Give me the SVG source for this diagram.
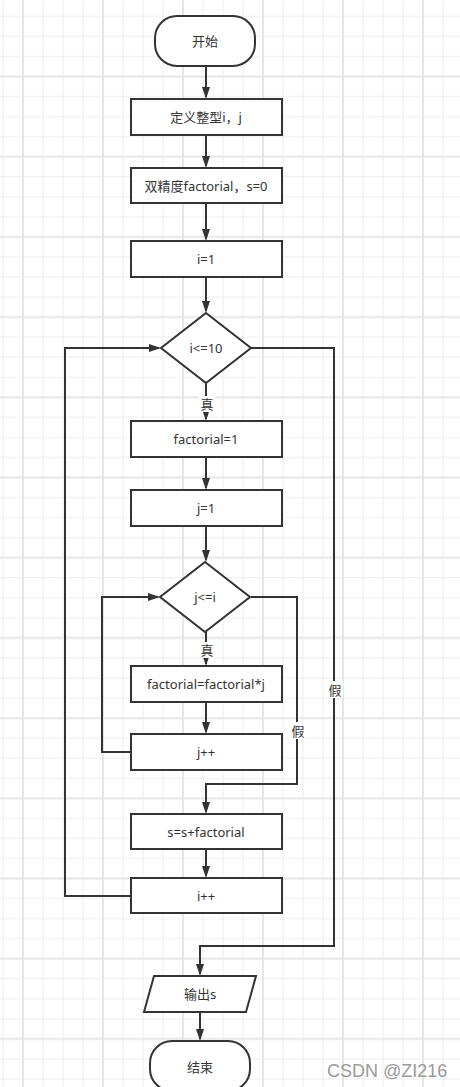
<svg xmlns="http://www.w3.org/2000/svg" width="460" height="1087" viewBox="0 0 460 1087">
<style>
.n{fill:#fff;stroke:#333;stroke-width:2}
.t{font-family:"Noto Sans","Noto Sans CJK SC",sans-serif;font-size:13px;fill:#333;text-anchor:middle;dominant-baseline:central}
.c{fill:none;stroke:#333;stroke-width:2}
.lb{fill:#fff}
</style>
<defs>
<pattern id="grid" patternUnits="userSpaceOnUse" x="-27" y="26.5" width="80" height="80.2">
<path d="M10,0V80.2M30,0V80.2M70,0V80.2M0,10H80M0,30.05H80M0,70.15H80" stroke="#ededed" stroke-width="1" fill="none"/>
<path d="M50,0V80.2M0,50.1H80" stroke="#e6e6e6" stroke-width="2" fill="none"/>
</pattern>
<marker id="ah" markerUnits="userSpaceOnUse" viewBox="0 0 12 8" markerWidth="12" markerHeight="8" refX="10" refY="4" orient="auto">
<path d="M0,0L12,4L0,8Z" fill="#333"/>
</marker>
</defs>
<rect width="460" height="1087" fill="#fff"/>
<rect width="460" height="1087" fill="url(#grid)"/>
<g id="connectors">
<path class="c" d="M206,66V97" marker-end="url(#ah)"/>
<path class="c" d="M206,135V166" marker-end="url(#ah)"/>
<path class="c" d="M206,203V239" marker-end="url(#ah)"/>
<path class="c" d="M206,277V311" marker-end="url(#ah)"/>
<path class="c" d="M206,383V419" marker-end="url(#ah)"/>
<path class="c" d="M206,457V488" marker-end="url(#ah)"/>
<path class="c" d="M206,526V560" marker-end="url(#ah)"/>
<path class="c" d="M206,632V664" marker-end="url(#ah)"/>
<path class="c" d="M206,702V732" marker-end="url(#ah)"/>
<path class="c" d="M131,752H102V597H158" marker-end="url(#ah)"/>
<path class="c" d="M251,597H297V784H206V812" marker-end="url(#ah)"/>
<path class="c" d="M206,849V876" marker-end="url(#ah)"/>
<path class="c" d="M131,896H65V348H159" marker-end="url(#ah)"/>
<path class="c" d="M251,348H334V946H200V974" marker-end="url(#ah)"/>
<path class="c" d="M200,1012V1039" marker-end="url(#ah)"/>
<rect class="lb" x="199" y="396" width="16" height="16"/>
<text class="t" x="207" y="404">真</text>
<rect class="lb" x="199" y="642" width="16" height="16"/>
<text class="t" x="207" y="650">真</text>
<rect class="lb" x="290" y="722" width="16" height="17"/>
<text class="t" x="298" y="731">假</text>
<rect class="lb" x="327" y="681" width="16" height="17"/>
<text class="t" x="335" y="690">假</text>
</g>
<g id="start"><rect class="n" x="155" y="16" width="100" height="50" rx="22"/><text class="t" x="205" y="41">开始</text></g>
<g id="defInt"><rect class="n" x="131" y="99" width="151" height="36"/><text class="t" x="206" y="117">定义整型i，j</text></g>
<g id="defDouble"><rect class="n" x="131" y="168" width="151" height="35"/><text class="t" x="206" y="186">双精度factorial，s=0</text></g>
<g id="initI"><rect class="n" x="131" y="241" width="151" height="36"/><text class="t" x="206" y="259">i=1</text></g>
<g id="condI"><path class="n" d="M206,313L251,348L206,383L161,348Z"/><text class="t" x="206" y="348">i&lt;=10</text></g>
<g id="fact1"><rect class="n" x="131" y="421" width="151" height="36"/><text class="t" x="206" y="439">factorial=1</text></g>
<g id="initJ"><rect class="n" x="131" y="490" width="151" height="36"/><text class="t" x="206" y="508">j=1</text></g>
<g id="condJ"><path class="n" d="M205,562L250,597L205,632L160,597Z"/><text class="t" x="205" y="597">j&lt;=i</text></g>
<g id="factMul"><rect class="n" x="131" y="666" width="151" height="36"/><text class="t" x="206" y="684">factorial=factorial*j</text></g>
<g id="incJ"><rect class="n" x="131" y="734" width="151" height="36"/><text class="t" x="206" y="752">j++</text></g>
<g id="sum"><rect class="n" x="131" y="814" width="151" height="35"/><text class="t" x="206" y="832">s=s+factorial</text></g>
<g id="incI"><rect class="n" x="131" y="878" width="151" height="35"/><text class="t" x="206" y="896">i++</text></g>
<g id="output"><path class="n" d="M154,976H256L246,1012H144Z"/><text class="t" x="200" y="994">输出s</text></g>
<g id="end"><rect class="n" x="150" y="1041" width="100" height="50" rx="22"/><text class="t" x="200" y="1067">结束</text></g>
<text x="327" y="1077" font-family="Liberation Sans,sans-serif" font-size="18" fill="#9a9a9a">CSDN @ZI216</text>
</svg>
